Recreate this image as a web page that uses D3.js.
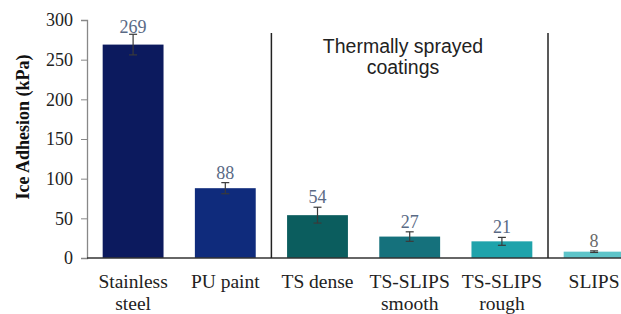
<!DOCTYPE html>
<html lang="en">
<head>
    <meta charset="UTF-8">
    <title>Ice adhesion</title>
    <script src="https://cdn.jsdelivr.net/npm/d3@7"></script>
    <style>
        body { margin: 0; background: #fff; }
    </style>
</head>
<body>
<script>
    // data
    const categories = ['Stainless steel', 'PU paint', 'TS dense', 'TS-SLIPS smooth', 'TS-SLIPS rough', 'SLIPS']
    const catLines = [['Stainless', 'steel'], ['PU paint'], ['TS dense'], ['TS-SLIPS', 'smooth'], ['TS-SLIPS', 'rough'], ['SLIPS']]
    const values = [269, 88, 54, 27, 21, 8]
    const errors = [13, 7, 10, 6, 5, 1]
    const colors = ['#0c1a5e', '#0f2b7c', '#0b5d5e', '#15717c', '#1fa3ab', '#5ec4c9']
    const yTicks = [0, 50, 100, 150, 200, 250, 300]
    const separators = [1.5, 4.5] // between category indices

    const width = 621, height = 314
    const x0 = 87, yBase = 258, yTop = 20

    const svg = d3.select('body').append('svg')
        .attr('width', width)
        .attr('height', height)

    const x = d3.scaleBand()
        .domain(categories)
        .range([x0, x0 + 6 * 92.2])
        .paddingInner(0.34)
        .paddingOuter(0.17)
    const y = d3.scaleLinear().domain([0, 300]).range([yBase, yTop])

    // y axis
    const yAxis = svg.append('g')
        .attr('transform', `translate(${x0},0)`)
        .call(d3.axisLeft(y).tickValues(yTicks).tickSize(6).tickPadding(8))
    yAxis.select('.domain').attr('stroke', '#888').attr('stroke-width', 1.3)
    yAxis.selectAll('.tick line').attr('stroke', '#888')
    yAxis.selectAll('.tick text')
        .attr('font-family', 'Liberation Serif, serif')
        .attr('font-size', 18)
        .attr('fill', '#222')

    svg.append('text')
        .attr('transform', 'translate(29,127) rotate(-90)')
        .attr('text-anchor', 'middle')
        .attr('font-family', 'Liberation Serif, serif')
        .attr('font-weight', 'bold')
        .attr('font-size', 18)
        .attr('fill', '#111')
        .text('Ice Adhesion (kPa)')

    // bars
    svg.selectAll('rect.bar').data(values).enter().append('rect')
        .attr('class', 'bar')
        .attr('x', (d, i) => x(categories[i]))
        .attr('width', x.bandwidth())
        .attr('y', d => y(d))
        .attr('height', d => yBase - y(d))
        .attr('fill', (d, i) => colors[i])

    // error bars
    const eb = svg.selectAll('g.err').data(values).enter().append('g')
        .attr('class', 'err')
        .attr('stroke', '#3a3a3a')
        .attr('stroke-width', 1.2)
    const cx = i => x(categories[i]) + x.bandwidth() / 2
    eb.append('line')
        .attr('x1', (d, i) => cx(i)).attr('x2', (d, i) => cx(i))
        .attr('y1', (d, i) => y(d + errors[i])).attr('y2', (d, i) => y(d - errors[i]))
    eb.append('line')
        .attr('x1', (d, i) => cx(i) - 4).attr('x2', (d, i) => cx(i) + 4)
        .attr('y1', (d, i) => y(d + errors[i])).attr('y2', (d, i) => y(d + errors[i]))
    eb.append('line')
        .attr('x1', (d, i) => cx(i) - 4).attr('x2', (d, i) => cx(i) + 4)
        .attr('y1', (d, i) => y(d - errors[i])).attr('y2', (d, i) => y(d - errors[i]))

    // value labels
    svg.selectAll('text.val').data(values).enter().append('text')
        .attr('class', 'val')
        .attr('x', (d, i) => cx(i))
        .attr('y', (d, i) => y(d + errors[i]) - (i === 0 ? 1 : 4))
        .attr('text-anchor', 'middle')
        .attr('font-family', 'Liberation Serif, serif')
        .attr('font-size', 18)
        .attr('fill', (d, i) => i === 5 ? '#6a6a6a' : '#5a6a85')
        .text(d => d)

    // baseline
    svg.append('line')
        .attr('x1', x0).attr('x2', width)
        .attr('y1', yBase).attr('y2', yBase)
        .attr('stroke', '#333').attr('stroke-width', 1.5)

    // group separators
    const sepX = s => x(categories[Math.floor(s)]) + x.bandwidth() + x.step() * x.paddingInner() / 2
    svg.selectAll('line.sep').data(separators).enter().append('line')
        .attr('class', 'sep')
        .attr('x1', sepX).attr('x2', sepX)
        .attr('y1', 33).attr('y2', yBase)
        .attr('stroke', '#222').attr('stroke-width', 1.5)

    // category labels
    const cl = svg.selectAll('text.cat').data(catLines).enter().append('text')
        .attr('class', 'cat')
        .attr('text-anchor', 'middle')
        .attr('font-family', 'Liberation Serif, serif')
        .attr('font-size', 19.5)
        .attr('fill', '#222')
    cl.selectAll('tspan').data((d, i) => d.map(t => ({t, i}))).enter().append('tspan')
        .attr('x', d => cx(d.i))
        .attr('y', (d, j) => 288 + j * 22)
        .text(d => d.t)

    // group annotation
    const ann = svg.append('text')
        .attr('text-anchor', 'middle')
        .attr('font-family', 'Liberation Sans, Arial, sans-serif')
        .attr('font-size', 19.5)
        .attr('fill', '#222')
    ann.append('tspan').attr('x', 403).attr('y', 53).text('Thermally sprayed')
    ann.append('tspan').attr('x', 403).attr('y', 74).text('coatings')
</script>
</body>
</html>
